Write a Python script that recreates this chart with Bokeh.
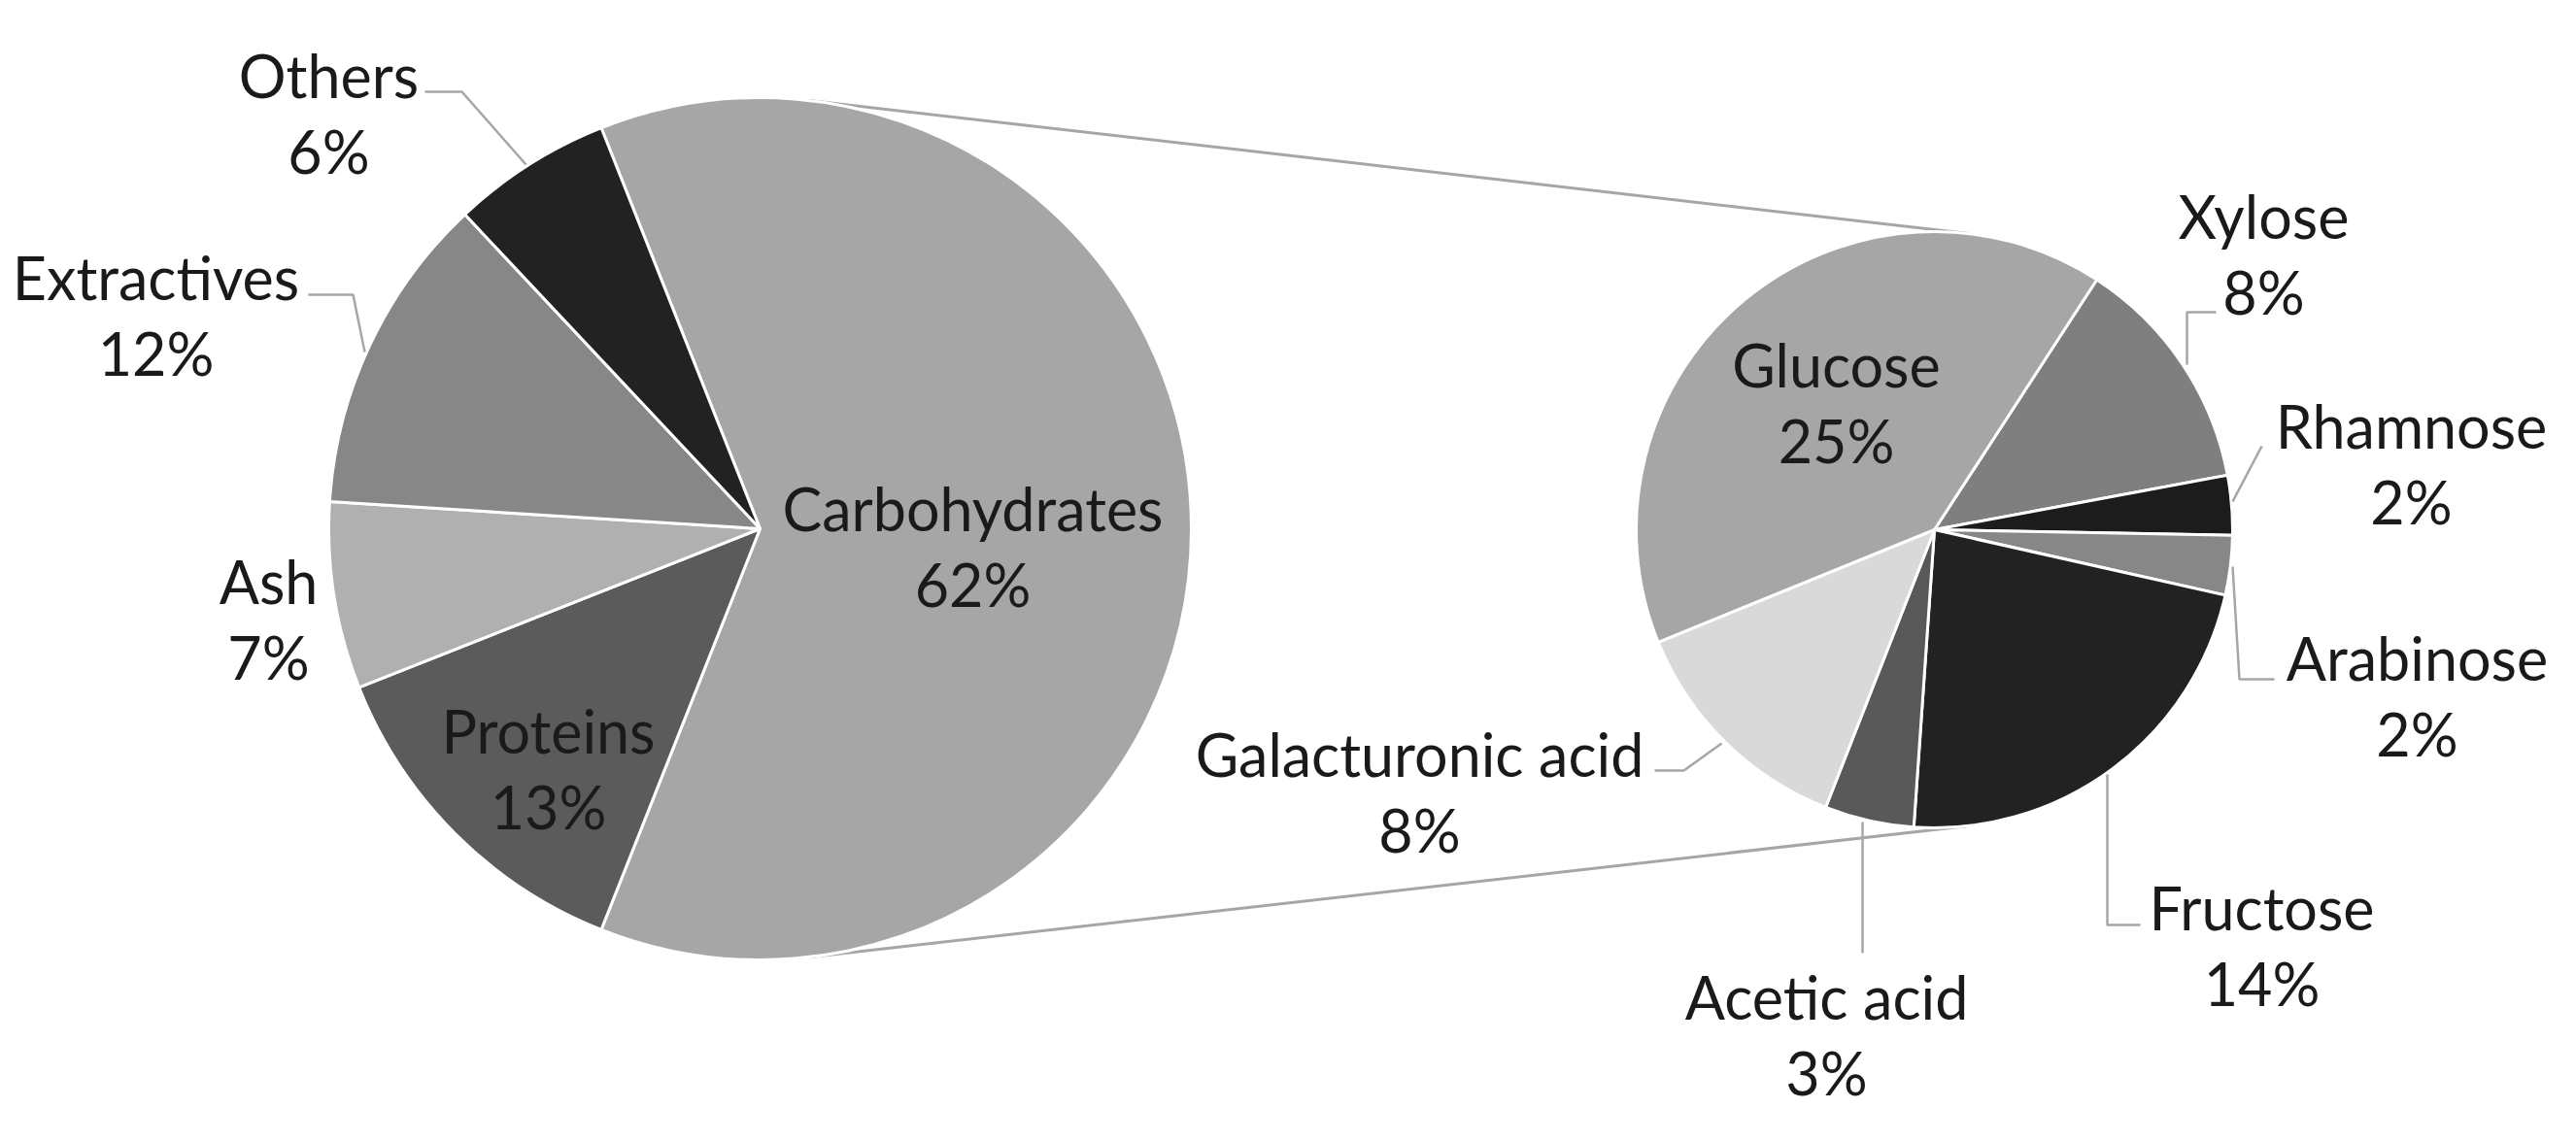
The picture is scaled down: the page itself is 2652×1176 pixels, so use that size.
import numpy as np
from bokeh.plotting import figure
from bokeh.models import Range1d
from bokeh.core.properties import value
from bokeh.embed import file_html
from bokeh.resources import INLINE

# ---------------- data ----------------
main_labels = ["Carbohydrates", "Proteins", "Ash", "Extractives", "Others"]
main_values = [62, 13, 7, 12, 6]
main_pct = ["62%", "13%", "7%", "12%", "6%"]

sub_labels = ["Xylose", "Rhamnose", "Arabinose", "Fructose", "Acetic acid",
              "Galacturonic acid", "Glucose"]
sub_values = [8, 2, 2, 14, 3, 8, 25]
sub_pct = ["8%", "2%", "2%", "14%", "3%", "8%", "25%"]

# ---------------- styles / layout ----------------
main_colors = ["#a6a6a6", "#5b5b5b", "#b0b0b0", "#878787", "#222222"]
sub_colors = ["#7f7f7f", "#1c1c1c", "#878787", "#222222", "#595959", "#d9d9d9", "#a6a6a6"]

W, H = 2636, 1160
FONT = "Lato"
FSIZE = "61px"
LINE_GAP = 78
OFF = 2  # page offset compensation


def sy(y):
    # screenshot y -> data y
    return 1176 - y


L_c = (784.0, sy(546)); L_r = 444.0
R_c = (1993.0, sy(547)); R_r = 307.0
SUB_START = 57.0

# label anchor positions (screen coords: x, y of first line)
main_label_xy = [(1003, 525), (566, 754), (278, 600), (162, 287), (340, 79)]
sub_label_xy = [(2332, 224), (2484, 440), (2490, 679), (2330, 936), (1882, 1028),
                (1463, 778), (1892, 377)]

leaders = [
    [(439, 96), (477, 96), (543, 171)],            # Others
    [(319, 305), (365, 305), (377, 364)],          # Extractives
    [(2283, 323), (2253, 323), (2253, 377)],       # Xylose
    [(2330, 461), (2300, 518)],                    # Rhamnose
    [(2343, 701), (2307, 701), (2300, 585)],       # Arabinose
    [(2205, 954), (2171, 954), (2171, 799)],       # Fructose
    [(1919, 983), (1919, 848)],                    # Acetic acid
    [(1705, 795), (1735, 795), (1774, 767)],       # Galacturonic acid
]

p = figure(width=W, height=H, x_range=Range1d(OFF, OFF + W),
           y_range=Range1d(16 - OFF, 16 - OFF + H),
           output_backend="svg", toolbar_location=None, min_border=0)
p.axis.visible = False
p.grid.visible = False
p.outline_line_color = None
p.background_fill_color = "white"
p.border_fill_color = "white"


def clockwise_angles(values, start_deg):
    v = np.array(values, float)
    frac = v / v.sum()
    s0 = np.deg2rad(start_deg)
    ends = s0 - 2 * np.pi * np.cumsum(frac)
    starts = np.concatenate([[s0], ends[:-1]])
    return starts, ends


# connector lines (external tangents of both circles)
dx, dy = R_c[0] - L_c[0], R_c[1] - L_c[1]
d = np.hypot(dx, dy)
alpha = np.arctan2(dy, dx)
beta = np.arccos((L_r - R_r) / d)
for phi in (alpha + beta, alpha - beta):
    n = (np.cos(phi), np.sin(phi))
    p.line([L_c[0] + L_r * n[0], R_c[0] + R_r * n[0]],
           [L_c[1] + L_r * n[1], R_c[1] + R_r * n[1]],
           line_color="#a6a6a6", line_width=3)

# main pie: first slice centered on the right
main_start = 180.0 * main_values[0] / sum(main_values)
s, e = clockwise_angles(main_values, main_start)
p.wedge(x=L_c[0], y=L_c[1], radius=L_r, start_angle=e, end_angle=s,
        direction="anticlock", fill_color=main_colors, line_color="white", line_width=3)

s2, e2 = clockwise_angles(sub_values, SUB_START)
p.wedge(x=R_c[0], y=R_c[1], radius=R_r, start_angle=e2, end_angle=s2,
        direction="anticlock", fill_color=sub_colors, line_color="white", line_width=3)

# leader lines
for pts in leaders:
    p.line([q[0] for q in pts], [sy(q[1]) for q in pts], line_color="#a6a6a6", line_width=2.5)

# labels
all_names = main_labels + sub_labels
all_pcts = main_pct + sub_pct
all_xy = main_label_xy + sub_label_xy
xs = [xy[0] for xy in all_xy]
p.text(x=xs, y=[sy(xy[1]) for xy in all_xy], text=all_names,
       text_font=value(FONT), text_font_size=FSIZE, text_color="#1a1a1a",
       text_align="center", text_baseline="middle")
p.text(x=xs, y=[sy(xy[1] + LINE_GAP) for xy in all_xy], text=all_pcts,
       text_font=value(FONT), text_font_size=FSIZE, text_color="#1a1a1a",
       text_align="center", text_baseline="middle")

open("out.html", "w").write(file_html(p, INLINE))
